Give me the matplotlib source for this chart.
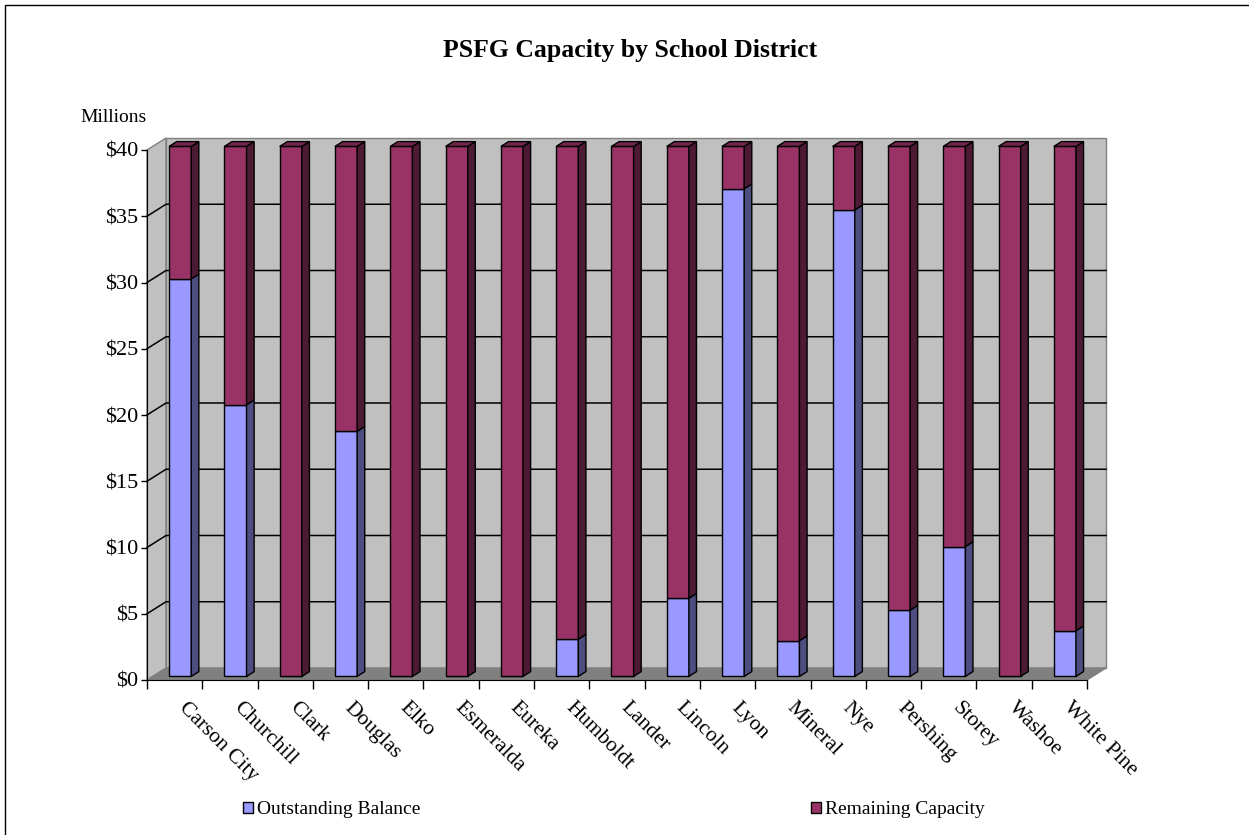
import matplotlib
matplotlib.use("Agg")
import matplotlib.pyplot as plt
from matplotlib.patches import Polygon, Patch
from matplotlib.lines import Line2D
import numpy as np

districts = ["Carson City", "Churchill", "Clark", "Douglas", "Elko", "Esmeralda",
             "Eureka", "Humboldt", "Lander", "Lincoln", "Lyon", "Mineral", "Nye",
             "Pershing", "Storey", "Washoe", "White Pine"]
outstanding = [30.0, 20.5, 0.0, 18.5, 0.0, 0.0, 0.0, 2.8, 0.0, 5.9, 36.8, 2.7,
               35.2, 5.0, 9.8, 0.0, 3.45]
remaining = [10.0, 19.5, 40.0, 21.5, 40.0, 40.0, 40.0, 37.2, 40.0, 34.1, 3.2, 37.3,
             4.8, 35.0, 30.2, 40.0, 36.55]
series_names = ["Outstanding Balance", "Remaining Capacity"]
y_ticks = [0, 5, 10, 15, 20, 25, 30, 35, 40]
y_ticklabels = ["$0", "$5", "$10", "$15", "$20", "$25", "$30", "$35", "$40"]

plt.rcParams['font.family'] = ['Liberation Serif', 'DejaVu Serif']

# face colours: front, side, top
blue = ("#9999FF", "#4D4D80", "#7373BF")
maroon = ("#993366", "#4D1A33", "#73264D")

W, H = 1249, 835
fig = plt.figure(figsize=(W / 100, H / 100), dpi=100)
ax = fig.add_axes([147 / W, 1 - 680 / H, 940 / W, 530 / H])
n = len(districts)
ymax = 40
ax.set_xlim(0, n)
ax.set_ylim(0, ymax)

# depth of the 3d box in data units
DX, DY = 0.344, 0.906
f0, bd = 0.30, 0.40   # bar front depth and bar depth as fractions
bw = 0.40

def poly(pts, fc, ec="black", lw=1.0, z=1):
    ax.add_patch(Polygon(pts, closed=True, facecolor=fc, edgecolor=ec, linewidth=lw,
                         zorder=z, clip_on=False, joinstyle='miter'))

# walls and floor
poly([(0, 0), (DX, DY), (DX, ymax + DY), (0, ymax)], "#C0C0C0", ec="#808080", z=0.5)
poly([(DX, DY), (n + DX, DY), (n + DX, ymax + DY), (DX, ymax + DY)], "#C0C0C0", ec="#808080", z=0.5)
poly([(0, 0), (n, 0), (n + DX, DY), (DX, DY)], "#808080", ec="#808080", z=0.6)

for v in y_ticks[1:-1]:
    ax.plot([0, DX, n + DX], [v, v + DY, v + DY], color="black", lw=1.1, zorder=0.7,
            clip_on=False)

# stacked bars with side and top faces
bx = np.arange(n) + 0.6
base = f0 * DY
ax.bar(bx, outstanding, bw, bottom=base, color=blue[0], edgecolor="black", lw=1.0,
       zorder=2, clip_on=False)
ax.bar(bx, remaining, bw, bottom=base + np.array(outstanding), color=maroon[0],
       edgecolor="black", lw=1.0, zorder=2, clip_on=False)

ddx, ddy = bd * DX, bd * DY
for i in range(n):
    xl, xr = bx[i] - bw / 2, bx[i] + bw / 2
    y0 = base
    segs = [(outstanding[i], blue), (remaining[i], maroon)]
    for h, col in segs:
        if h <= 0:
            continue
        y1 = y0 + h
        poly([(xr, y0), (xr, y1), (xr + ddx, y1 + ddy), (xr + ddx, y0 + ddy)], col[1], z=2)
        y0 = y1
    top_col = maroon if remaining[i] > 0 else blue
    poly([(xl, y0), (xr, y0), (xr + ddx, y0 + ddy), (xl + ddx, y0 + ddy)], top_col[2], z=2)

# axes
for s in ["top", "right"]:
    ax.spines[s].set_visible(False)
ax.spines["left"].set_zorder(3)
ax.spines["bottom"].set_zorder(3)
ax.set_yticks(y_ticks)
ax.set_yticklabels(y_ticklabels, fontsize=16)
ax.tick_params(axis='y', length=4.5, width=1, pad=1.5, direction='out')
ax.set_xticks(np.arange(n + 1))
ax.set_xticklabels([])
ax.tick_params(axis='x', which='major', length=6.5, width=1, direction='out')
ax.set_xticks(np.arange(n) + 0.62, minor=True)
ax.set_xticklabels(districts, minor=True, rotation=-45, ha='left', va='center',
                   rotation_mode='anchor', fontsize=15.5)
ax.tick_params(axis='x', which='minor', length=0, pad=18)
ax.patch.set_visible(False)

fig.text(80 / W, 1 - 117 / H, "Millions", fontsize=14, ha='left', va='center')
fig.text(630 / W, 1 - 50 / H, "PSFG Capacity by School District", fontsize=18.5,
         fontweight='bold', ha='center', va='center')

handles = [Patch(facecolor=blue[0], edgecolor="black", lw=1.0),
           Patch(facecolor=maroon[0], edgecolor="black", lw=1.0)]
fig.legend(handles, series_names, loc='center left', bbox_to_anchor=(243 / W, 1 - 810 / H),
           ncol=2, frameon=False, fontsize=14, handlelength=0.52, handleheight=0.52,
           handletextpad=0.2, columnspacing=20.1, borderpad=0, borderaxespad=0)

# chart frame (left and top edges visible)
fig.add_artist(Line2D([5 / W, 5 / W, 1.0], [0.0, 1 - 5 / H, 1 - 5 / H], color="black",
                      lw=1.0, transform=fig.transFigure))

fig.savefig("out.png", dpi=100)
plt.close(fig)
